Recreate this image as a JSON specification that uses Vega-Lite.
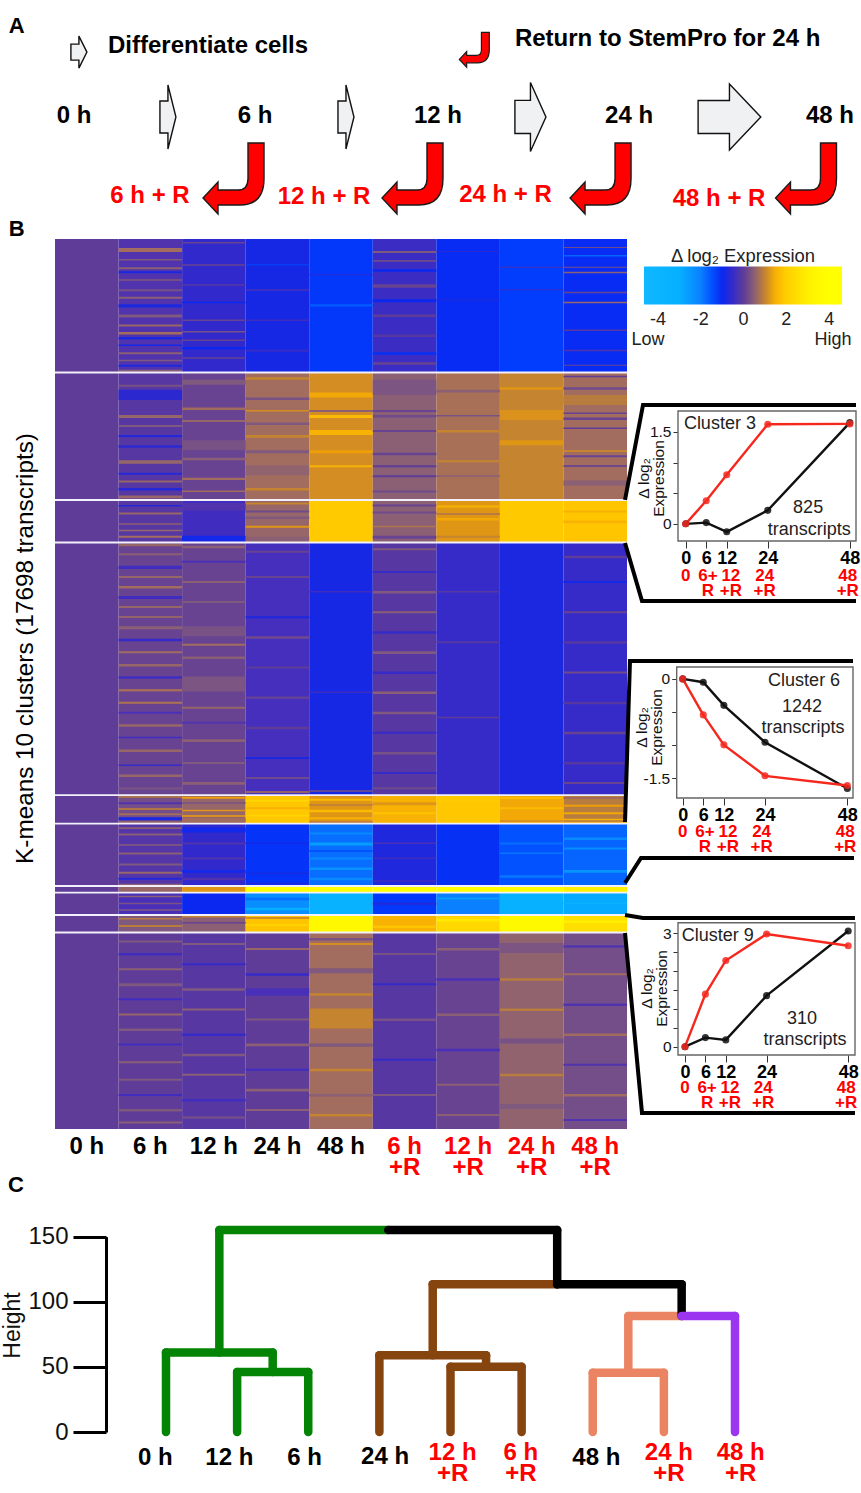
{
"$schema":"https://vega.github.io/schema/vega-lite/v6.json",
"width":861,"height":1493,"autosize":"none","padding":0,"background":"white",
"config":{"view":{"stroke":null},"font":"Liberation Sans","axis":{"grid":false}},
"resolve":{"scale":{"x":"independent","y":"independent","color":"independent"},"axis":{"x":"independent","y":"independent"},"legend":{"color":"independent"}},
"layer":[
{"encoding":{"x":{"field":"stage","type":"quantitative","axis":null,"scale":{"domain":[0,4],"range":[74,830],"nice":false,"zero":false}},"y":{"field":"row","type":"quantitative","axis":null,"scale":{"domain":[0,2],"range":[46,198],"nice":false,"zero":false}}},
"layer":[
{"data":{"values":[{"stage":0.026,"row":0.08}]},"mark":{"type":"point","shape":"M-0.5,-0.5L0,-0.5L0,-1L0.5,0L0,1L0,0.5L-0.5,0.5Z","size":1024,"filled":true,"fill":"#f0f1f3","stroke":"#111","strokeWidth":1.4,"opacity":1}},
{"data":{"values":[{"stage":0.497,"row":0.934},{"stage":1.439,"row":0.934}]},"mark":{"type":"point","shape":"M-0.25,-0.5L0,-0.5L0,-1L0.25,0L0,1L0,0.5L-0.25,0.5Z","size":4096,"filled":true,"fill":"#f0f1f3","stroke":"#111","strokeWidth":1.4,"opacity":1}},
{"data":{"values":[{"stage":2.415,"row":0.934}]},"mark":{"type":"point","shape":"M-0.45,-0.48L0,-0.48L0,-1L0.45,0L0,1L0,0.48L-0.45,0.48Z","size":4761,"filled":true,"fill":"#f0f1f3","stroke":"#111","strokeWidth":1.4,"opacity":1}},
{"data":{"values":[{"stage":3.468,"row":0.934}]},"mark":{"type":"point","shape":"M-0.95,-0.5L0,-0.5L0,-1L0.95,0L0,1L0,0.5L-0.95,0.5Z","size":4356,"filled":true,"fill":"#f0f1f3","stroke":"#111","strokeWidth":1.4,"opacity":1}},
{"data":{"values":[{"stage":0.844,"row":1.743},{"stage":1.791,"row":1.743},{"stage":2.786,"row":1.743},{"stage":3.873,"row":1.743}]},"mark":{"type":"point","shape":"M0.408,-1L0.859,-1L0.859,0Q0.859,0.746,0.183,0.746L-0.437,0.746L-0.437,1L-0.859,0.55L-0.437,0.099L-0.437,0.324L0.127,0.324Q0.408,0.324,0.408,0Z","size":5041,"filled":true,"fill":"#ff0000","stroke":"#1a1a1a","strokeWidth":1.4,"opacity":1}},
{"data":{"values":[{"stage":2.118,"row":0.05}]},"mark":{"type":"point","shape":"M0.408,-1L0.859,-1L0.859,0Q0.859,0.746,0.183,0.746L-0.437,0.746L-0.437,1L-0.859,0.55L-0.437,0.099L-0.437,0.324L0.127,0.324Q0.408,0.324,0.408,0Z","size":1218,"filled":true,"fill":"#ff0000","stroke":"#1a1a1a","strokeWidth":1.2,"opacity":1}},
{"data":{"values":[{"stage":0,"row":0.92,"label":"0 h"},{"stage":0.958,"row":0.92,"label":"6 h"},{"stage":1.926,"row":0.92,"label":"12 h"},{"stage":2.937,"row":0.92,"label":"24 h"},{"stage":4,"row":0.92,"label":"48 h"}]},"mark":{"type":"text","fontSize":24,"fontWeight":"bold","color":"black"},"encoding":{"text":{"field":"label"}}},
{"data":{"values":[{"stage":0.18,"row":0,"label":"Differentiate  cells"},{"stage":2.333,"row":-0.09,"label":"Return to StemPro for 24 h"}]},"mark":{"type":"text","fontSize":24,"fontWeight":"bold","color":"black","align":"left"},"encoding":{"text":{"field":"label"}}},
{"data":{"values":[{"stage":-0.345,"row":-0.26,"label":"A"},{"stage":-0.345,"row":2.408,"label":"B"}]},"mark":{"type":"text","fontSize":22,"fontWeight":"bold","color":"black","align":"left"},"encoding":{"text":{"field":"label"}}},
{"data":{"values":[{"stage":0.402,"row":1.974,"label":"6 h + R"},{"stage":1.323,"row":1.987,"label":"12 h + R"},{"stage":2.283,"row":1.96,"label":"24 h + R"},{"stage":3.413,"row":2.013,"label":"48 h + R"}]},"mark":{"type":"text","fontSize":24,"fontWeight":"bold","color":"#ff0000"},"encoding":{"text":{"field":"label"}}}
]},
{"data":{"values":[
{"time":"0 h","from":0,"to":2655,"value":0},{"time":"6 h","from":0,"to":2655,"value":-0.2},{"time":"12 h","from":0,"to":2655,"value":-0.55},{"time":"24 h","from":0,"to":2655,"value":-0.85},{"time":"48 h","from":0,"to":2655,"value":-1.2},{"time":"6 h +R","from":0,"to":2655,"value":-0.45},{"time":"12 h +R","from":0,"to":2655,"value":-1.05},{"time":"24 h +R","from":0,"to":2655,"value":-1.25},{"time":"48 h +R","from":0,"to":2655,"value":-1.05},
{"time":"0 h","from":2655,"to":5190,"value":0},{"time":"6 h","from":2655,"to":5190,"value":-0.1},{"time":"12 h","from":2655,"to":5190,"value":0.1},{"time":"24 h","from":2655,"to":5190,"value":0.7},{"time":"48 h","from":2655,"to":5190,"value":1.1},{"time":"6 h +R","from":2655,"to":5190,"value":0.5},{"time":"12 h +R","from":2655,"to":5190,"value":0.75},{"time":"24 h +R","from":2655,"to":5190,"value":1.0},{"time":"48 h +R","from":2655,"to":5190,"value":0.7},
{"time":"0 h","from":5190,"to":6035,"value":0},{"time":"6 h","from":5190,"to":6035,"value":-0.1},{"time":"12 h","from":5190,"to":6035,"value":-0.4},{"time":"24 h","from":5190,"to":6035,"value":0.6},{"time":"48 h","from":5190,"to":6035,"value":1.9},{"time":"6 h +R","from":5190,"to":6035,"value":0.5},{"time":"12 h +R","from":5190,"to":6035,"value":1.2},{"time":"24 h +R","from":5190,"to":6035,"value":1.85},{"time":"48 h +R","from":5190,"to":6035,"value":1.75},
{"time":"0 h","from":6035,"to":11057,"value":0},{"time":"6 h","from":6035,"to":11057,"value":0.1},{"time":"12 h","from":6035,"to":11057,"value":0.1},{"time":"24 h","from":6035,"to":11057,"value":-0.35},{"time":"48 h","from":6035,"to":11057,"value":-0.85},{"time":"6 h +R","from":6035,"to":11057,"value":-0.1},{"time":"12 h +R","from":6035,"to":11057,"value":-0.5},{"time":"24 h +R","from":6035,"to":11057,"value":-0.8},{"time":"48 h +R","from":6035,"to":11057,"value":-0.5},
{"time":"0 h","from":11057,"to":11624,"value":0},{"time":"6 h","from":11057,"to":11624,"value":0.25},{"time":"12 h","from":11057,"to":11624,"value":0.6},{"time":"24 h","from":11057,"to":11624,"value":1.8},{"time":"48 h","from":11057,"to":11624,"value":1.2},{"time":"6 h +R","from":11057,"to":11624,"value":1.5},{"time":"12 h +R","from":11057,"to":11624,"value":1.8},{"time":"24 h +R","from":11057,"to":11624,"value":1.4},{"time":"48 h +R","from":11057,"to":11624,"value":0.9},
{"time":"0 h","from":11624,"to":12866,"value":0},{"time":"6 h","from":11624,"to":12866,"value":-0.15},{"time":"12 h","from":11624,"to":12866,"value":-0.55},{"time":"24 h","from":11624,"to":12866,"value":-1.15},{"time":"48 h","from":11624,"to":12866,"value":-1.8},{"time":"6 h +R","from":11624,"to":12866,"value":-0.75},{"time":"12 h +R","from":11624,"to":12866,"value":-1.1},{"time":"24 h +R","from":11624,"to":12866,"value":-1.5},{"time":"48 h +R","from":11624,"to":12866,"value":-1.7},
{"time":"0 h","from":12866,"to":12996,"value":0},{"time":"6 h","from":12866,"to":12996,"value":0.6},{"time":"12 h","from":12866,"to":12996,"value":1.2},{"time":"24 h","from":12866,"to":12996,"value":4},{"time":"48 h","from":12866,"to":12996,"value":4},{"time":"6 h +R","from":12866,"to":12996,"value":4},{"time":"12 h +R","from":12866,"to":12996,"value":4},{"time":"24 h +R","from":12866,"to":12996,"value":4},{"time":"48 h +R","from":12866,"to":12996,"value":3},
{"time":"0 h","from":12996,"to":13443,"value":0},{"time":"6 h","from":12996,"to":13443,"value":-0.3},{"time":"12 h","from":12996,"to":13443,"value":-1},{"time":"24 h","from":12996,"to":13443,"value":-2.3},{"time":"48 h","from":12996,"to":13443,"value":-3.5},{"time":"6 h +R","from":12996,"to":13443,"value":-1.2},{"time":"12 h +R","from":12996,"to":13443,"value":-2},{"time":"24 h +R","from":12996,"to":13443,"value":-3.3},{"time":"48 h +R","from":12996,"to":13443,"value":-2.9},
{"time":"0 h","from":13443,"to":13791,"value":0},{"time":"6 h","from":13443,"to":13791,"value":0.4},{"time":"12 h","from":13443,"to":13791,"value":0.5},{"time":"24 h","from":13443,"to":13791,"value":1.7},{"time":"48 h","from":13443,"to":13791,"value":3.5},{"time":"6 h +R","from":13443,"to":13791,"value":1.5},{"time":"12 h +R","from":13443,"to":13791,"value":2.3},{"time":"24 h +R","from":13443,"to":13791,"value":3.6},{"time":"48 h +R","from":13443,"to":13791,"value":2.5},
{"time":"0 h","from":13791,"to":17698,"value":0},{"time":"6 h","from":13791,"to":17698,"value":0},{"time":"12 h","from":13791,"to":17698,"value":-0.1},{"time":"24 h","from":13791,"to":17698,"value":0},{"time":"48 h","from":13791,"to":17698,"value":0.7},{"time":"6 h +R","from":13791,"to":17698,"value":-0.1},{"time":"12 h +R","from":13791,"to":17698,"value":0.1},{"time":"24 h +R","from":13791,"to":17698,"value":0.55},{"time":"48 h +R","from":13791,"to":17698,"value":0.25},
{"time":"6 h","from":180,"to":260,"value":0.7},{"time":"6 h","from":400,"to":430,"value":0.4},{"time":"6 h","from":560,"to":600,"value":0.5},{"time":"6 h","from":640,"to":680,"value":-0.8},{"time":"6 h","from":800,"to":830,"value":0.4},{"time":"6 h","from":1000,"to":1040,"value":0.3},{"time":"6 h","from":1150,"to":1190,"value":0.5},{"time":"6 h","from":1300,"to":1360,"value":-0.8},{"time":"6 h","from":1500,"to":1560,"value":0.4},{"time":"6 h","from":1700,"to":1740,"value":0.6},{"time":"6 h","from":1850,"to":1900,"value":0.7},{"time":"6 h","from":1950,"to":2000,"value":-0.8},{"time":"6 h","from":2100,"to":2130,"value":-0.9},{"time":"6 h","from":2250,"to":2290,"value":0.5},{"time":"6 h","from":2400,"to":2430,"value":0.4},{"time":"6 h","from":2500,"to":2540,"value":-0.8},{"time":"6 h","from":2600,"to":2640,"value":0.5},
{"time":"12 h","from":60,"to":90,"value":0.1},{"time":"12 h","from":500,"to":530,"value":0.1},{"time":"12 h","from":900,"to":930,"value":-0.1},{"time":"12 h","from":1250,"to":1280,"value":-1},{"time":"12 h","from":1600,"to":1630,"value":0.1},{"time":"12 h","from":1830,"to":1860,"value":0.3},{"time":"12 h","from":2000,"to":2030,"value":0.1},{"time":"12 h","from":2150,"to":2190,"value":-1},{"time":"12 h","from":2350,"to":2380,"value":0.1},
{"time":"24 h","from":500,"to":520,"value":-1.4},{"time":"24 h","from":1000,"to":1030,"value":-0.3},{"time":"24 h","from":1600,"to":1630,"value":-0.4},{"time":"24 h","from":2200,"to":2240,"value":-0.5},{"time":"48 h","from":700,"to":720,"value":-0.6},{"time":"48 h","from":1300,"to":1340,"value":-1.6},
{"time":"6 h +R","from":240,"to":280,"value":0.4},{"time":"6 h +R","from":420,"to":450,"value":0.2},{"time":"6 h +R","from":600,"to":650,"value":-1},{"time":"6 h +R","from":900,"to":970,"value":0.1},{"time":"6 h +R","from":1200,"to":1260,"value":-1},{"time":"6 h +R","from":1500,"to":1550,"value":0},{"time":"6 h +R","from":1900,"to":1950,"value":-0.1},{"time":"6 h +R","from":2250,"to":2300,"value":-1.1},{"time":"6 h +R","from":2450,"to":2500,"value":0.1},
{"time":"12 h +R","from":240,"to":260,"value":-0.6},{"time":"12 h +R","from":1200,"to":1220,"value":-0.7},{"time":"24 h +R","from":550,"to":570,"value":-0.3},{"time":"24 h +R","from":1000,"to":1020,"value":-0.5},
{"time":"48 h +R","from":160,"to":180,"value":0.2},{"time":"48 h +R","from":320,"to":350,"value":-1.7},{"time":"48 h +R","from":550,"to":570,"value":0.3},{"time":"48 h +R","from":650,"to":680,"value":0.5},{"time":"48 h +R","from":1050,"to":1080,"value":0.1},{"time":"48 h +R","from":1250,"to":1280,"value":0.6},{"time":"48 h +R","from":1800,"to":1830,"value":-0.1},{"time":"48 h +R","from":2200,"to":2230,"value":-0.2},{"time":"48 h +R","from":2500,"to":2520,"value":0.1},
{"time":"6 h","from":2900,"to":2940,"value":0.3},{"time":"6 h","from":3000,"to":3200,"value":-0.6},{"time":"6 h","from":3500,"to":3560,"value":0.6},{"time":"6 h","from":3700,"to":3740,"value":0.4},{"time":"6 h","from":3900,"to":3940,"value":-0.7},{"time":"6 h","from":4100,"to":4150,"value":-0.6},{"time":"6 h","from":4400,"to":4470,"value":0.6},{"time":"6 h","from":4650,"to":4690,"value":-0.7},{"time":"6 h","from":4800,"to":4840,"value":0.6},{"time":"6 h","from":4950,"to":5000,"value":-0.7},{"time":"6 h","from":5100,"to":5160,"value":0.6},
{"time":"12 h","from":2800,"to":2900,"value":0.4},{"time":"12 h","from":3350,"to":3400,"value":0.7},{"time":"12 h","from":3600,"to":3640,"value":0.6},{"time":"12 h","from":4000,"to":4200,"value":0.3},{"time":"12 h","from":4350,"to":4400,"value":0.5},{"time":"12 h","from":4750,"to":4790,"value":0.7},{"time":"12 h","from":5000,"to":5030,"value":0.7},
{"time":"24 h","from":2750,"to":2800,"value":1},{"time":"24 h","from":3150,"to":3200,"value":0.3},{"time":"24 h","from":3400,"to":3430,"value":1.1},{"time":"24 h","from":3650,"to":3700,"value":0.4},{"time":"24 h","from":3900,"to":3950,"value":1},{"time":"24 h","from":4200,"to":4260,"value":0.4},{"time":"24 h","from":4500,"to":4700,"value":0.55},{"time":"24 h","from":4950,"to":5000,"value":1},
{"time":"48 h","from":3050,"to":3150,"value":1.4},{"time":"48 h","from":3400,"to":3440,"value":0.5},{"time":"48 h","from":3500,"to":3560,"value":1.6},{"time":"48 h","from":3800,"to":3900,"value":1.5},{"time":"48 h","from":4200,"to":4260,"value":1.3},{"time":"48 h","from":4500,"to":4540,"value":1.5},
{"time":"6 h +R","from":2800,"to":3100,"value":0.35},{"time":"6 h +R","from":3400,"to":3440,"value":0.1},{"time":"6 h +R","from":3500,"to":3550,"value":0.2},{"time":"6 h +R","from":3800,"to":3840,"value":0.1},{"time":"6 h +R","from":4250,"to":4300,"value":0.1},{"time":"6 h +R","from":4500,"to":4540,"value":0},{"time":"6 h +R","from":4700,"to":4740,"value":0},{"time":"6 h +R","from":5000,"to":5040,"value":0.2},
{"time":"12 h +R","from":3000,"to":3050,"value":0.5},{"time":"12 h +R","from":3500,"to":3530,"value":0.3},{"time":"12 h +R","from":3800,"to":3850,"value":1},{"time":"12 h +R","from":4400,"to":4440,"value":1},{"time":"12 h +R","from":4700,"to":4730,"value":0.5},
{"time":"24 h +R","from":2950,"to":3000,"value":1.2},{"time":"24 h +R","from":3400,"to":3600,"value":1.15},{"time":"24 h +R","from":4000,"to":4100,"value":1.2},
{"time":"48 h +R","from":2720,"to":2750,"value":0},{"time":"48 h +R","from":2950,"to":3000,"value":0.2},{"time":"48 h +R","from":3100,"to":3300,"value":0.9},{"time":"48 h +R","from":3450,"to":3480,"value":0.1},{"time":"48 h +R","from":3550,"to":3600,"value":0.1},{"time":"48 h +R","from":3750,"to":3780,"value":0},{"time":"48 h +R","from":4200,"to":4230,"value":1.1},{"time":"48 h +R","from":4300,"to":4340,"value":0.1},{"time":"48 h +R","from":4500,"to":4530,"value":0},{"time":"48 h +R","from":4800,"to":4900,"value":0.5},
{"time":"6 h","from":5290,"to":5320,"value":-0.7},{"time":"6 h","from":5440,"to":5480,"value":0.6},{"time":"6 h","from":5650,"to":5680,"value":0.5},{"time":"6 h","from":5780,"to":5810,"value":0.6},{"time":"6 h","from":5900,"to":5940,"value":0.7},
{"time":"12 h","from":5250,"to":5400,"value":-0.2},{"time":"12 h","from":5900,"to":6020,"value":-0.9},
{"time":"24 h","from":5240,"to":5280,"value":1},{"time":"24 h","from":5400,"to":5440,"value":0.2},{"time":"24 h","from":5520,"to":5570,"value":0.4},{"time":"24 h","from":5700,"to":5740,"value":1.2},{"time":"24 h","from":5920,"to":6020,"value":0.5},
{"time":"6 h +R","from":5280,"to":5320,"value":0.1},{"time":"6 h +R","from":5420,"to":5460,"value":0.2},{"time":"6 h +R","from":5700,"to":5730,"value":0.8},{"time":"6 h +R","from":5900,"to":5960,"value":0.1},
{"time":"12 h +R","from":5300,"to":5340,"value":1.5},{"time":"12 h +R","from":5450,"to":5490,"value":0.9},{"time":"12 h +R","from":5550,"to":5600,"value":1.4},{"time":"12 h +R","from":5900,"to":5940,"value":1},
{"time":"48 h +R","from":5400,"to":5440,"value":1.5},{"time":"48 h +R","from":5600,"to":5650,"value":1.5},
{"time":"6 h","from":6060,"to":6110,"value":0.6},{"time":"6 h","from":6250,"to":6290,"value":0.5},{"time":"6 h","from":6500,"to":6560,"value":-0.4},{"time":"6 h","from":6700,"to":6740,"value":0.6},{"time":"6 h","from":6900,"to":6950,"value":0.7},{"time":"6 h","from":7100,"to":7160,"value":-0.4},{"time":"6 h","from":7300,"to":7340,"value":0.6},{"time":"6 h","from":7500,"to":7530,"value":0.7},{"time":"6 h","from":7700,"to":7760,"value":0.5},{"time":"6 h","from":7950,"to":8000,"value":-0.5},{"time":"6 h","from":8200,"to":8240,"value":0.7},{"time":"6 h","from":8450,"to":8500,"value":0.6},{"time":"6 h","from":8700,"to":8740,"value":-0.5},{"time":"6 h","from":8950,"to":9000,"value":0.7},{"time":"6 h","from":9200,"to":9240,"value":0.8},{"time":"6 h","from":9400,"to":9440,"value":-0.3},{"time":"6 h","from":9650,"to":9700,"value":0.6},{"time":"6 h","from":9900,"to":9930,"value":-0.4},{"time":"6 h","from":10150,"to":10200,"value":0.6},{"time":"6 h","from":10450,"to":10480,"value":-0.5},{"time":"6 h","from":10650,"to":10700,"value":0.6},{"time":"6 h","from":10900,"to":10950,"value":0.3},
{"time":"12 h","from":6100,"to":6150,"value":0.5},{"time":"12 h","from":6400,"to":6440,"value":-0.3},{"time":"12 h","from":6800,"to":6840,"value":0.5},{"time":"12 h","from":7200,"to":7240,"value":0.4},{"time":"12 h","from":7700,"to":7900,"value":0.3},{"time":"12 h","from":8050,"to":8090,"value":0.7},{"time":"12 h","from":8300,"to":8350,"value":0.5},{"time":"12 h","from":8700,"to":9000,"value":0.35},{"time":"12 h","from":9300,"to":9340,"value":0.6},{"time":"12 h","from":9600,"to":9640,"value":-0.2},{"time":"12 h","from":9950,"to":10000,"value":0.5},{"time":"12 h","from":10400,"to":10440,"value":0.4},{"time":"12 h","from":10800,"to":10850,"value":0.5},
{"time":"24 h","from":6200,"to":6240,"value":0.1},{"time":"24 h","from":6700,"to":6740,"value":0.1},{"time":"24 h","from":7500,"to":7540,"value":-0.8},{"time":"24 h","from":7900,"to":7950,"value":0.2},{"time":"24 h","from":8500,"to":8540,"value":0},{"time":"24 h","from":9100,"to":9140,"value":0.1},{"time":"24 h","from":9700,"to":9750,"value":0},{"time":"24 h","from":10300,"to":10340,"value":-0.8},{"time":"24 h","from":10700,"to":10740,"value":0.2},{"time":"24 h","from":10980,"to":11010,"value":0.8},
{"time":"48 h","from":7000,"to":7030,"value":-0.4},{"time":"48 h","from":9000,"to":9030,"value":-0.4},{"time":"48 h","from":10960,"to":10990,"value":0.3},
{"time":"6 h +R","from":6150,"to":6190,"value":0.4},{"time":"6 h +R","from":6600,"to":6640,"value":-0.5},{"time":"6 h +R","from":7000,"to":7050,"value":0.4},{"time":"6 h +R","from":7400,"to":7440,"value":0.5},{"time":"6 h +R","from":7800,"to":7850,"value":-0.5},{"time":"6 h +R","from":8200,"to":8250,"value":0.4},{"time":"6 h +R","from":8600,"to":8650,"value":-0.5},{"time":"6 h +R","from":9000,"to":9050,"value":0.5},{"time":"6 h +R","from":9400,"to":9450,"value":0.4},{"time":"6 h +R","from":9800,"to":9840,"value":-0.5},{"time":"6 h +R","from":10200,"to":10250,"value":0.3},{"time":"6 h +R","from":10600,"to":10640,"value":-0.5},{"time":"6 h +R","from":10900,"to":10940,"value":0.2},
{"time":"12 h +R","from":7000,"to":7030,"value":-0.1},{"time":"12 h +R","from":8000,"to":8040,"value":-0.1},{"time":"12 h +R","from":9500,"to":9530,"value":0},
{"time":"48 h +R","from":6300,"to":6350,"value":0},{"time":"48 h +R","from":6800,"to":6840,"value":-0.9},{"time":"48 h +R","from":7400,"to":7440,"value":0.1},{"time":"48 h +R","from":8000,"to":8050,"value":-0.1},{"time":"48 h +R","from":8600,"to":8640,"value":0.2},{"time":"48 h +R","from":9200,"to":9250,"value":-0.1},{"time":"48 h +R","from":9800,"to":9850,"value":0.1},{"time":"48 h +R","from":10400,"to":10450,"value":-0.1},{"time":"48 h +R","from":10800,"to":10840,"value":0.1},
{"time":"6 h","from":11080,"to":11110,"value":0.9},{"time":"6 h","from":11200,"to":11240,"value":-0.2},{"time":"6 h","from":11320,"to":11350,"value":1},{"time":"6 h","from":11420,"to":11460,"value":0.7},{"time":"6 h","from":11500,"to":11560,"value":-0.8},{"time":"6 h","from":11580,"to":11620,"value":0.6},
{"time":"12 h","from":11090,"to":11130,"value":1.3},{"time":"12 h","from":11200,"to":11230,"value":0.3},{"time":"12 h","from":11350,"to":11380,"value":1.2},{"time":"12 h","from":11460,"to":11490,"value":1.3},{"time":"12 h","from":11520,"to":11600,"value":0.7},
{"time":"24 h","from":11150,"to":11190,"value":2.2},{"time":"24 h","from":11300,"to":11340,"value":1.5},{"time":"24 h","from":11450,"to":11480,"value":2.2},
{"time":"48 h","from":11130,"to":11170,"value":1.6},{"time":"48 h","from":11240,"to":11270,"value":0.9},{"time":"48 h","from":11350,"to":11400,"value":1.6},{"time":"48 h","from":11500,"to":11540,"value":1.5},{"time":"48 h","from":11580,"to":11620,"value":0.9},
{"time":"6 h +R","from":11200,"to":11260,"value":1.2},{"time":"6 h +R","from":11400,"to":11440,"value":1.7},{"time":"12 h +R","from":11100,"to":11200,"value":1.9},{"time":"24 h +R","from":11100,"to":11130,"value":1.7},{"time":"24 h +R","from":11300,"to":11340,"value":1.6},{"time":"24 h +R","from":11560,"to":11590,"value":1.1},
{"time":"48 h +R","from":11100,"to":11130,"value":0.6},{"time":"48 h +R","from":11250,"to":11290,"value":1.3},{"time":"48 h +R","from":11400,"to":11440,"value":1.4},{"time":"48 h +R","from":11530,"to":11560,"value":1.5},{"time":"48 h +R","from":11590,"to":11620,"value":1.4},
{"time":"6 h","from":11700,"to":11730,"value":0.5},{"time":"6 h","from":11820,"to":11860,"value":0.5},{"time":"6 h","from":12030,"to":12070,"value":0.3},{"time":"6 h","from":12200,"to":12240,"value":0.5},{"time":"6 h","from":12420,"to":12460,"value":0.4},{"time":"6 h","from":12580,"to":12620,"value":0.6},{"time":"6 h","from":12700,"to":12740,"value":-0.7},{"time":"6 h","from":12820,"to":12850,"value":0.5},
{"time":"12 h","from":11700,"to":11800,"value":-0.9},{"time":"12 h","from":12000,"to":12040,"value":-0.2},{"time":"12 h","from":12300,"to":12340,"value":-0.2},{"time":"12 h","from":12550,"to":12600,"value":-0.9},{"time":"12 h","from":12700,"to":12750,"value":-0.2},
{"time":"24 h","from":12000,"to":12030,"value":-0.9},{"time":"24 h","from":12600,"to":12630,"value":-0.8},{"time":"24 h","from":12800,"to":12830,"value":-0.7},
{"time":"48 h","from":11800,"to":11840,"value":-2.2},{"time":"48 h","from":12000,"to":12060,"value":-2.6},{"time":"48 h","from":12150,"to":12190,"value":-1.5},{"time":"48 h","from":12300,"to":12340,"value":-2.2},{"time":"48 h","from":12500,"to":12550,"value":-2.4},{"time":"48 h","from":12700,"to":12750,"value":-2.2},
{"time":"6 h +R","from":12000,"to":12030,"value":-0.3},{"time":"6 h +R","from":12300,"to":12330,"value":-0.4},{"time":"6 h +R","from":12750,"to":12780,"value":-0.4},
{"time":"24 h +R","from":12000,"to":12040,"value":-1.8},{"time":"24 h +R","from":12200,"to":12230,"value":-1.9},{"time":"24 h +R","from":12650,"to":12700,"value":-1.9},
{"time":"48 h +R","from":11900,"to":11950,"value":-2.2},{"time":"48 h +R","from":12100,"to":12140,"value":-2.3},{"time":"48 h +R","from":12550,"to":12600,"value":-2.4},
{"time":"6 h","from":13060,"to":13090,"value":0.5},{"time":"6 h","from":13200,"to":13230,"value":0.3},{"time":"6 h","from":13330,"to":13360,"value":0.4},{"time":"24 h","from":13100,"to":13150,"value":-1.8},{"time":"24 h","from":13300,"to":13350,"value":-3.1},{"time":"6 h +R","from":13200,"to":13240,"value":-0.7},{"time":"12 h +R","from":13100,"to":13130,"value":-2.7},{"time":"48 h +R","from":13200,"to":13230,"value":-3.5},
{"time":"6 h","from":13500,"to":13530,"value":0.9},{"time":"6 h","from":13640,"to":13680,"value":0.9},{"time":"12 h","from":13460,"to":13490,"value":1},{"time":"12 h","from":13580,"to":13610,"value":0.1},{"time":"24 h","from":13480,"to":13520,"value":1.1},{"time":"24 h","from":13620,"to":13660,"value":2.1},{"time":"6 h +R","from":13650,"to":13700,"value":1.7},{"time":"12 h +R","from":13520,"to":13570,"value":2.8},{"time":"48 h +R","from":13550,"to":13600,"value":3},
{"time":"6 h","from":13950,"to":13990,"value":0.4},{"time":"6 h","from":14200,"to":14250,"value":-0.4},{"time":"6 h","from":14500,"to":14540,"value":0.5},{"time":"6 h","from":14800,"to":14860,"value":0.4},{"time":"6 h","from":15100,"to":15140,"value":-0.4},{"time":"6 h","from":15400,"to":15440,"value":0.6},{"time":"6 h","from":15700,"to":15750,"value":0.4},{"time":"6 h","from":16000,"to":16040,"value":-0.4},{"time":"6 h","from":16350,"to":16390,"value":0.5},{"time":"6 h","from":16700,"to":16740,"value":0.4},{"time":"6 h","from":17000,"to":17040,"value":-0.4},{"time":"6 h","from":17300,"to":17350,"value":0.4},{"time":"6 h","from":17550,"to":17590,"value":0.5},
{"time":"12 h","from":14000,"to":14040,"value":0.4},{"time":"12 h","from":14400,"to":14440,"value":-0.5},{"time":"12 h","from":14900,"to":14950,"value":0.4},{"time":"12 h","from":15300,"to":15340,"value":0.5},{"time":"12 h","from":15800,"to":15850,"value":-0.5},{"time":"12 h","from":16200,"to":16250,"value":0.4},{"time":"12 h","from":16600,"to":16640,"value":0.5},{"time":"12 h","from":17100,"to":17150,"value":-0.4},{"time":"12 h","from":17450,"to":17490,"value":0.3},
{"time":"24 h","from":14100,"to":14140,"value":0.6},{"time":"24 h","from":14600,"to":14650,"value":-0.5},{"time":"24 h","from":14900,"to":15050,"value":-0.3},{"time":"24 h","from":15500,"to":15540,"value":0.4},{"time":"24 h","from":16000,"to":16050,"value":0.5},{"time":"24 h","from":16500,"to":16540,"value":-0.4},{"time":"24 h","from":16900,"to":16950,"value":0.5},{"time":"24 h","from":17300,"to":17340,"value":0.5},
{"time":"48 h","from":13900,"to":13950,"value":0.3},{"time":"48 h","from":14000,"to":14040,"value":1.1},{"time":"48 h","from":14500,"to":14600,"value":0.4},{"time":"48 h","from":15000,"to":15050,"value":1},{"time":"48 h","from":15300,"to":15700,"value":1},{"time":"48 h","from":16000,"to":16060,"value":0.4},{"time":"48 h","from":16500,"to":16550,"value":1},{"time":"48 h","from":17000,"to":17050,"value":0.5},{"time":"48 h","from":17400,"to":17450,"value":1},
{"time":"6 h +R","from":14200,"to":14240,"value":0.3},{"time":"6 h +R","from":14800,"to":14840,"value":-0.5},{"time":"6 h +R","from":15500,"to":15550,"value":0.3},{"time":"6 h +R","from":16300,"to":16340,"value":-0.5},{"time":"6 h +R","from":17000,"to":17040,"value":0.4},
{"time":"12 h +R","from":14100,"to":14150,"value":0.5},{"time":"12 h +R","from":14700,"to":14750,"value":-0.3},{"time":"12 h +R","from":15400,"to":15450,"value":0.5},{"time":"12 h +R","from":16100,"to":16150,"value":-0.3},{"time":"12 h +R","from":16800,"to":16840,"value":0.5},{"time":"12 h +R","from":17400,"to":17440,"value":0.5},
{"time":"24 h +R","from":14000,"to":14200,"value":0.35},{"time":"24 h +R","from":14700,"to":14750,"value":0.9},{"time":"24 h +R","from":15300,"to":15350,"value":0.9},{"time":"24 h +R","from":15900,"to":16000,"value":0.3},{"time":"24 h +R","from":16600,"to":16650,"value":0.9},{"time":"24 h +R","from":17200,"to":17300,"value":0.4},
{"time":"48 h +R","from":14050,"to":14090,"value":-0.3},{"time":"48 h +R","from":14600,"to":14640,"value":0.7},{"time":"48 h +R","from":15200,"to":15250,"value":-0.2},{"time":"48 h +R","from":15800,"to":15850,"value":0.7},{"time":"48 h +R","from":16400,"to":16440,"value":-0.2},{"time":"48 h +R","from":17000,"to":17050,"value":0.7},{"time":"48 h +R","from":17500,"to":17540,"value":-0.2}
]},
"mark":{"type":"rect","strokeWidth":0},
"encoding":{
"x":{"field":"time","type":"nominal","sort":null,"scale":{"type":"band","domain":["0 h","6 h","12 h","24 h","48 h","6 h +R","12 h +R","24 h +R","48 h +R"],"range":[55,627],"paddingInner":0,"paddingOuter":0},"axis":{"orient":"bottom","offset":-364,"title":null,"domain":false,"ticks":false,"labelAngle":0,"labelFontSize":24,"labelFontWeight":"bold","labelPadding":5,"labelLineHeight":21,"labelExpr":"indexof(datum.label,'+R')>0 ? [replace(datum.label,' +R',''),'+R'] : datum.label","labelColor":{"condition":{"test":"indexof(datum.value,'+R')>0","value":"#ff0000"},"value":"black"}}},
"y":{"field":"from","type":"quantitative","scale":{"domain":[0,17698],"range":[239,1129],"nice":false,"zero":false},"axis":{"orient":"left","offset":0,"title":"K-means 10 clusters (17698 transcripts)","titleFontSize":24.3,"titleFontWeight":"normal","titleX":25,"titleY":648,"titleAngle":-90,"titleAlign":"center","titleBaseline":"middle","domain":false,"ticks":false,"labels":false}},
"y2":{"field":"to"},
"color":{"field":"value","type":"quantitative","scale":{"type":"linear","interpolate":"rgb","domain":[-4.65,-3,-2,-1.3,-1,-0.6,-0.3,0,0.4,0.7,1,1.3,1.7,3,4,4.6],"range":["#0fb8ff","#05b0ff","#0a80ff","#0040ff","#0a28f0","#2c28d0","#4a30b8","#5e3c98","#80597f","#a26c5e","#c58430","#ee9f08","#ffc400","#fff000","#ffff00","#ffff00"]},
"legend":{"orient":"none","legendX":644,"legendY":247,"direction":"horizontal","gradientLength":198,"gradientThickness":38,"gradientStrokeWidth":0,"title":"Δ log₂ Expression","titleFontSize":18.4,"titleFontWeight":"normal","titleColor":"#222","titleAnchor":"middle","titlePadding":1,"labelFontSize":18,"labelColor":"#222","labelOffset":7,"labelExpr":"datum.value<0 ? '-' + abs(datum.value) : '' + datum.value","values":[-4,-2,0,2,4],"zindex":0}}
}},
{"encoding":{"x":{"field":"column","type":"quantitative","axis":null,"scale":{"domain":[0,9],"range":[55,627],"nice":false,"zero":false}},"y":{"field":"transcripts","type":"quantitative","axis":null,"scale":{"domain":[0,17698],"range":[239,1129],"nice":false,"zero":false}}},
"layer":[
{"data":{"values":[{"column":0,"column2":9,"transcripts":2655},{"column":0,"column2":9,"transcripts":5190},{"column":0,"column2":9,"transcripts":6035},{"column":0,"column2":9,"transcripts":11057},{"column":0,"column2":9,"transcripts":11624},{"column":0,"column2":9,"transcripts":12866},{"column":0,"column2":9,"transcripts":12996},{"column":0,"column2":9,"transcripts":13443},{"column":0,"column2":9,"transcripts":13791}]},"mark":{"type":"rule","color":"#f2f0fa","strokeWidth":1.8},"encoding":{"x2":{"field":"column2"}}},
{"data":{"values":[
{"callout":"c3 top","seq":1,"column":8.969,"transcripts":5190},{"callout":"c3 top","seq":2,"column":9.252,"transcripts":3301},{"callout":"c3 top","seq":3,"column":12.603,"transcripts":3301},
{"callout":"c3 bottom","seq":1,"column":8.969,"transcripts":6045},{"callout":"c3 bottom","seq":2,"column":9.236,"transcripts":7199},{"callout":"c3 bottom","seq":3,"column":12.603,"transcripts":7199},
{"callout":"c6 top","seq":1,"column":8.969,"transcripts":11594},{"callout":"c6 top","seq":2,"column":9.047,"transcripts":8392},{"callout":"c6 top","seq":3,"column":12.556,"transcripts":8392},
{"callout":"c6 bottom","seq":1,"column":8.969,"transcripts":12807},{"callout":"c6 bottom","seq":2,"column":9.22,"transcripts":12310},{"callout":"c6 bottom","seq":3,"column":12.571,"transcripts":12310},
{"callout":"c9 top","seq":1,"column":8.969,"transcripts":13443},{"callout":"c9 top","seq":2,"column":9.252,"transcripts":13503},{"callout":"c9 top","seq":3,"column":12.587,"transcripts":13503},
{"callout":"c9 bottom","seq":1,"column":8.969,"transcripts":13801},{"callout":"c9 bottom","seq":2,"column":9.236,"transcripts":17381},{"callout":"c9 bottom","seq":3,"column":12.587,"transcripts":17381}
]},"mark":{"type":"line","color":"black","strokeWidth":4,"strokeJoin":"miter","strokeCap":"butt"},"encoding":{"detail":{"field":"callout"},"order":{"field":"seq"}}}
]},
{"encoding":{"x":{"field":"value","type":"quantitative","axis":null,"scale":{"domain":[-4.65,4.6],"range":[644,842],"nice":false,"zero":false}},"y":{"field":"level","type":"quantitative","axis":null,"scale":{"domain":[0,1],"range":[304,266],"nice":false,"zero":false}}},
"layer":[
{"data":{"values":[{"value":-4,"level":0,"level2":0.24},{"value":-2,"level":0,"level2":0.24},{"value":0,"level":0,"level2":0.24},{"value":2,"level":0,"level2":0.24},{"value":4,"level":0,"level2":0.24},{"value":-4,"level":0.76,"level2":1},{"value":-2,"level":0.76,"level2":1},{"value":0,"level":0.76,"level2":1},{"value":2,"level":0.76,"level2":1},{"value":4,"level":0.76,"level2":1}]},"mark":{"type":"rule","color":"white","strokeWidth":1.5},"encoding":{"y2":{"field":"level2"}}},
{"data":{"values":[{"value":-4.46,"level":-0.947,"label":"Low"},{"value":4.18,"level":-0.96,"label":"High"}]},"mark":{"type":"text","fontSize":18,"color":"#222"},"encoding":{"text":{"field":"label"}}}
]},
{"encoding":{"x":{"field":"hour","type":"quantitative","scale":{"domain":[-2.25,49.8],"range":[678,856],"nice":false,"zero":false},"axis":{"orient":"bottom","offset":-952,"title":null,"domain":false,"values":[0,6,12,24,48],"tickSize":7,"tickColor":"#333","labelFontSize":18,"labelFontWeight":"bold","labelColor":"black","labelPadding":1,"labelAngle":0,"labelFlush":false,"labelOverlap":false}},"y":{"field":"value","type":"quantitative","scale":{"domain":[-0.28,1.84],"range":[541,411],"nice":false,"zero":false},"axis":{"orient":"left","offset":-678,"domain":false,"values":[0,0.5,1,1.5],"tickSize":5,"tickColor":"#333","labelFontSize":15.5,"labelColor":"#111","labelPadding":2,"labelExpr":"datum.value==0?'0':datum.value==1.5?'1.5':''","title":["Δ log₂","Expression"],"titleFontSize":15.5,"titleFontWeight":"normal","titleColor":"#111","titleLineHeight":15,"titleX":-35,"titleY":478,"titleAngle":-90,"titleAlign":"center","titleBaseline":"middle"}}},
"layer":[
{"data":{"values":[{"hour":-2.25,"hour2":49.8,"value":-0.28,"value2":1.84}]},"mark":{"type":"rect","fill":"white","stroke":"#666","strokeWidth":1.4},"encoding":{"x2":{"field":"hour2"},"y2":{"field":"value2"}}},
{"data":{"values":[{"series":"Differentiate","hour":0,"value":0},{"series":"Differentiate","hour":6,"value":0.02},{"series":"Differentiate","hour":12,"value":-0.13},{"series":"Differentiate","hour":24,"value":0.22},{"series":"Differentiate","hour":48,"value":1.65},{"series":"Return","hour":0,"value":0},{"series":"Return","hour":6,"value":0.375},{"series":"Return","hour":12,"value":0.8},{"series":"Return","hour":24,"value":1.625},{"series":"Return","hour":48,"value":1.63}]},
"layer":[{"mark":{"type":"line","strokeWidth":2.4},"encoding":{"color":{"field":"series","type":"nominal","scale":{"domain":["Differentiate","Return"],"range":["#111111","#f5281e"]},"legend":null}}},{"mark":{"type":"point","filled":true,"size":50,"opacity":0.85},"encoding":{"color":{"field":"series","type":"nominal","scale":{"domain":["Differentiate","Return"],"range":["#111111","#f5281e"]},"legend":null}}}]},
{"data":{"values":[{"hour":10,"value":1.626,"label":"Cluster 3"},{"hour":35.8,"value":0.256,"label":"825"},{"hour":36.1,"value":-0.103,"label":"transcripts"}]},"mark":{"type":"text","fontSize":18,"color":"#222"},"encoding":{"text":{"field":"label"}}},
{"data":{"values":[{"hour":0,"value":-0.28,"label":"0"},{"hour":6.5,"value":-0.28,"label":"6+"},{"hour":13.2,"value":-0.28,"label":"12"},{"hour":23.1,"value":-0.28,"label":"24"},{"hour":47.4,"value":-0.28,"label":"48"}]},"mark":{"type":"text","fontSize":17,"fontWeight":"bold","color":"#ff0000","dy":35},"encoding":{"text":{"field":"label"}}},
{"data":{"values":[{"hour":6.5,"value":-0.28,"label":"R"},{"hour":13.2,"value":-0.28,"label":"+R"},{"hour":23.1,"value":-0.28,"label":"+R"},{"hour":47.4,"value":-0.28,"label":"+R"}]},"mark":{"type":"text","fontSize":17,"fontWeight":"bold","color":"#ff0000","dy":50},"encoding":{"text":{"field":"label"}}}
]},
{"encoding":{"x":{"field":"hour","type":"quantitative","scale":{"domain":[-1.75,49.65],"range":[676.7,853],"nice":false,"zero":false},"axis":{"orient":"bottom","offset":-695,"title":null,"domain":false,"values":[0,6,12,24,48],"tickSize":7,"tickColor":"#333","labelFontSize":18,"labelFontWeight":"bold","labelColor":"black","labelPadding":1,"labelAngle":0,"labelFlush":false,"labelOverlap":false}},"y":{"field":"value","type":"quantitative","scale":{"domain":[-1.8,0.18],"range":[798,667],"nice":false,"zero":false},"axis":{"orient":"left","offset":-676.7,"domain":false,"values":[0,-0.5,-1,-1.5],"tickSize":5,"tickColor":"#333","labelFontSize":15.5,"labelColor":"#111","labelPadding":2,"labelExpr":"datum.value==0?'0':datum.value==-1.5?'-1.5':''","title":["Δ log₂","Expression"],"titleFontSize":15.5,"titleFontWeight":"normal","titleColor":"#111","titleLineHeight":15,"titleX":-35,"titleY":727,"titleAngle":-90,"titleAlign":"center","titleBaseline":"middle"}}},
"layer":[
{"data":{"values":[{"hour":-1.75,"hour2":49.65,"value":-1.8,"value2":0.18}]},"mark":{"type":"rect","fill":"white","stroke":"#666","strokeWidth":1.4},"encoding":{"x2":{"field":"hour2"},"y2":{"field":"value2"}}},
{"data":{"values":[{"series":"Differentiate","hour":0,"value":0},{"series":"Differentiate","hour":6,"value":-0.05},{"series":"Differentiate","hour":12,"value":-0.4},{"series":"Differentiate","hour":24,"value":-0.957},{"series":"Differentiate","hour":48,"value":-1.657},{"series":"Return","hour":0,"value":0},{"series":"Return","hour":6,"value":-0.544},{"series":"Return","hour":12,"value":-0.997},{"series":"Return","hour":24,"value":-1.465},{"series":"Return","hour":48,"value":-1.611}]},
"layer":[{"mark":{"type":"line","strokeWidth":2.4},"encoding":{"color":{"field":"series","type":"nominal","scale":{"domain":["Differentiate","Return"],"range":["#111111","#f5281e"]},"legend":null}}},{"mark":{"type":"point","filled":true,"size":50,"opacity":0.85},"encoding":{"color":{"field":"series","type":"nominal","scale":{"domain":["Differentiate","Return"],"range":["#111111","#f5281e"]},"legend":null}}}]},
{"data":{"values":[{"hour":35.4,"value":-0.03,"label":"Cluster 6"},{"hour":34.8,"value":-0.423,"label":"1242"},{"hour":35.1,"value":-0.74,"label":"transcripts"}]},"mark":{"type":"text","fontSize":18,"color":"#222"},"encoding":{"text":{"field":"label"}}},
{"data":{"values":[{"hour":0,"value":-1.8,"label":"0"},{"hour":6.5,"value":-1.8,"label":"6+"},{"hour":13.2,"value":-1.8,"label":"12"},{"hour":23,"value":-1.8,"label":"24"},{"hour":47.4,"value":-1.8,"label":"48"}]},"mark":{"type":"text","fontSize":17,"fontWeight":"bold","color":"#ff0000","dy":34},"encoding":{"text":{"field":"label"}}},
{"data":{"values":[{"hour":6.5,"value":-1.8,"label":"R"},{"hour":13.2,"value":-1.8,"label":"+R"},{"hour":23,"value":-1.8,"label":"+R"},{"hour":47.4,"value":-1.8,"label":"+R"}]},"mark":{"type":"text","fontSize":17,"fontWeight":"bold","color":"#ff0000","dy":49},"encoding":{"text":{"field":"label"}}}
]},
{"encoding":{"x":{"field":"hour","type":"quantitative","scale":{"domain":[-2.06,50],"range":[678,855],"nice":false,"zero":false},"axis":{"orient":"bottom","offset":-438,"title":null,"domain":false,"values":[0,6,12,24,48],"tickSize":7,"tickColor":"#333","labelFontSize":18,"labelFontWeight":"bold","labelColor":"black","labelPadding":1,"labelAngle":0,"labelFlush":false,"labelOverlap":false}},"y":{"field":"value","type":"quantitative","scale":{"domain":[-0.22,3.28],"range":[1055,922.7],"nice":false,"zero":false},"axis":{"orient":"left","offset":-678,"domain":false,"values":[0,0.5,1,1.5,2,2.5,3],"tickSize":5,"tickColor":"#333","labelFontSize":15.5,"labelColor":"#111","labelPadding":2,"labelExpr":"datum.value==0?'0':datum.value==3?'3':''","title":["Δ log₂","Expression"],"titleFontSize":15.5,"titleFontWeight":"normal","titleColor":"#111","titleLineHeight":15,"titleX":-31.5,"titleY":988,"titleAngle":-90,"titleAlign":"center","titleBaseline":"middle"}}},
"layer":[
{"data":{"values":[{"hour":-2.06,"hour2":50,"value":-0.22,"value2":3.28}]},"mark":{"type":"rect","fill":"white","stroke":"#666","strokeWidth":1.4},"encoding":{"x2":{"field":"hour2"},"y2":{"field":"value2"}}},
{"data":{"values":[{"series":"Differentiate","hour":0,"value":0},{"series":"Differentiate","hour":6,"value":0.24},{"series":"Differentiate","hour":12,"value":0.18},{"series":"Differentiate","hour":24,"value":1.35},{"series":"Differentiate","hour":48,"value":3.06},{"series":"Return","hour":0,"value":0},{"series":"Return","hour":6,"value":1.39},{"series":"Return","hour":12,"value":2.28},{"series":"Return","hour":24,"value":2.98},{"series":"Return","hour":48,"value":2.67}]},
"layer":[{"mark":{"type":"line","strokeWidth":2.4},"encoding":{"color":{"field":"series","type":"nominal","scale":{"domain":["Differentiate","Return"],"range":["#111111","#f5281e"]},"legend":null}}},{"mark":{"type":"point","filled":true,"size":50,"opacity":0.85},"encoding":{"color":{"field":"series","type":"nominal","scale":{"domain":["Differentiate","Return"],"range":["#111111","#f5281e"]},"legend":null}}}]},
{"data":{"values":[{"hour":9.6,"value":2.94,"label":"Cluster 9"},{"hour":34.4,"value":0.73,"label":"310"},{"hour":35.3,"value":0.18,"label":"transcripts"}]},"mark":{"type":"text","fontSize":18,"color":"#222"},"encoding":{"text":{"field":"label"}}},
{"data":{"values":[{"hour":0,"value":-0.22,"label":"0"},{"hour":6.5,"value":-0.22,"label":"6+"},{"hour":13.2,"value":-0.22,"label":"12"},{"hour":23,"value":-0.22,"label":"24"},{"hour":47.4,"value":-0.22,"label":"48"}]},"mark":{"type":"text","fontSize":17,"fontWeight":"bold","color":"#ff0000","dy":33},"encoding":{"text":{"field":"label"}}},
{"data":{"values":[{"hour":6.5,"value":-0.22,"label":"R"},{"hour":13.2,"value":-0.22,"label":"+R"},{"hour":23,"value":-0.22,"label":"+R"},{"hour":47.4,"value":-0.22,"label":"+R"}]},"mark":{"type":"text","fontSize":17,"fontWeight":"bold","color":"#ff0000","dy":48},"encoding":{"text":{"field":"label"}}}
]},
{"encoding":{"x":{"field":"leaf","type":"quantitative","axis":null,"scale":{"domain":[0,8],"range":[166,735],"nice":false,"zero":false}},"y":{"field":"height","type":"quantitative","scale":{"domain":[0,150],"range":[1432,1236.6],"nice":false,"zero":false},"axis":{"orient":"left","offset":-106,"domainWidth":3,"domainColor":"black","values":[0,50,100,150],"tickSize":33,"tickWidth":3,"tickColor":"black","labelFontSize":24,"labelColor":"#111","labelPadding":5,"title":"Height","titleFontSize":23,"titleFontWeight":"normal","titleColor":"#111","titleX":-94,"titleY":1325,"titleAngle":-90,"titleAlign":"center","titleBaseline":"middle"}}},
"layer":[
{"data":{"values":[
{"branch":"early","leaf":0,"leaf2":0,"height":0,"height2":61},{"branch":"early","leaf":0,"leaf2":1.5,"height":61,"height2":61},{"branch":"early","leaf":1.5,"leaf2":1.5,"height":46,"height2":61},{"branch":"early","leaf":1,"leaf2":2,"height":46,"height2":46},{"branch":"early","leaf":1,"leaf2":1,"height":0,"height2":46},{"branch":"early","leaf":2,"leaf2":2,"height":0,"height2":46},{"branch":"early","leaf":0.75,"leaf2":0.75,"height":61,"height2":155},{"branch":"early","leaf":0.75,"leaf2":3.125,"height":155,"height2":155},
{"branch":"mid","leaf":3,"leaf2":3,"height":0,"height2":59},{"branch":"mid","leaf":3,"leaf2":4.5,"height":59,"height2":59},{"branch":"mid","leaf":4.5,"leaf2":4.5,"height":50,"height2":59},{"branch":"mid","leaf":4,"leaf2":5,"height":50,"height2":50},{"branch":"mid","leaf":4,"leaf2":4,"height":0,"height2":50},{"branch":"mid","leaf":5,"leaf2":5,"height":0,"height2":50},{"branch":"mid","leaf":3.75,"leaf2":3.75,"height":59,"height2":113.5},{"branch":"mid","leaf":3.75,"leaf2":5.5,"height":113.5,"height2":113.5},
{"branch":"late","leaf":6,"leaf2":6,"height":0,"height2":45.5},{"branch":"late","leaf":7,"leaf2":7,"height":0,"height2":45.5},{"branch":"late","leaf":6,"leaf2":7,"height":45.5,"height2":45.5},{"branch":"late","leaf":6.5,"leaf2":6.5,"height":45.5,"height2":89},{"branch":"late","leaf":6.5,"leaf2":7.25,"height":89,"height2":89},
{"branch":"root","leaf":7.25,"leaf2":7.25,"height":89,"height2":113.5},{"branch":"root","leaf":5.5,"leaf2":7.25,"height":113.5,"height2":113.5},{"branch":"root","leaf":5.5,"leaf2":5.5,"height":113.5,"height2":155},{"branch":"root","leaf":3.125,"leaf2":5.5,"height":155,"height2":155},
{"branch":"48 h +R","leaf":7.25,"leaf2":8,"height":89,"height2":89},{"branch":"48 h +R","leaf":8,"leaf2":8,"height":0,"height2":89}
]},"mark":{"type":"rule","strokeWidth":8.5,"strokeCap":"round"},"encoding":{"x2":{"field":"leaf2"},"y2":{"field":"height2"},"color":{"field":"branch","type":"nominal","sort":null,"scale":{"domain":["early","mid","late","root","48 h +R"],"range":["#048404","#86440f","#ea8462","#000000","#9b35ef"]},"legend":null}}},
{"data":{"values":[{"leaf":-0.15,"height":-20,"label":"0 h"},{"leaf":0.89,"height":-20,"label":"12 h"},{"leaf":1.95,"height":-20,"label":"6 h"},{"leaf":3.08,"height":-19,"label":"24 h"},{"leaf":6.05,"height":-20,"label":"48 h"}]},"mark":{"type":"text","fontSize":24,"fontWeight":"bold","color":"black"},"encoding":{"text":{"field":"label"}}},
{"data":{"values":[{"leaf":-2.22,"height":189.6,"label":"C"}]},"mark":{"type":"text","fontSize":22,"fontWeight":"bold","color":"black","align":"left"},"encoding":{"text":{"field":"label"}}},
{"data":{"values":[{"leaf":4.03,"height":-16,"label":"12 h"},{"leaf":4.03,"height":-32,"label":"+R"},{"leaf":4.99,"height":-16,"label":"6 h"},{"leaf":4.99,"height":-32,"label":"+R"},{"leaf":7.07,"height":-16,"label":"24 h"},{"leaf":7.07,"height":-32,"label":"+R"},{"leaf":8.08,"height":-16,"label":"48 h"},{"leaf":8.08,"height":-32,"label":"+R"}]},"mark":{"type":"text","fontSize":24,"fontWeight":"bold","color":"#ff0000"},"encoding":{"text":{"field":"label"}}}
]}
]
}
